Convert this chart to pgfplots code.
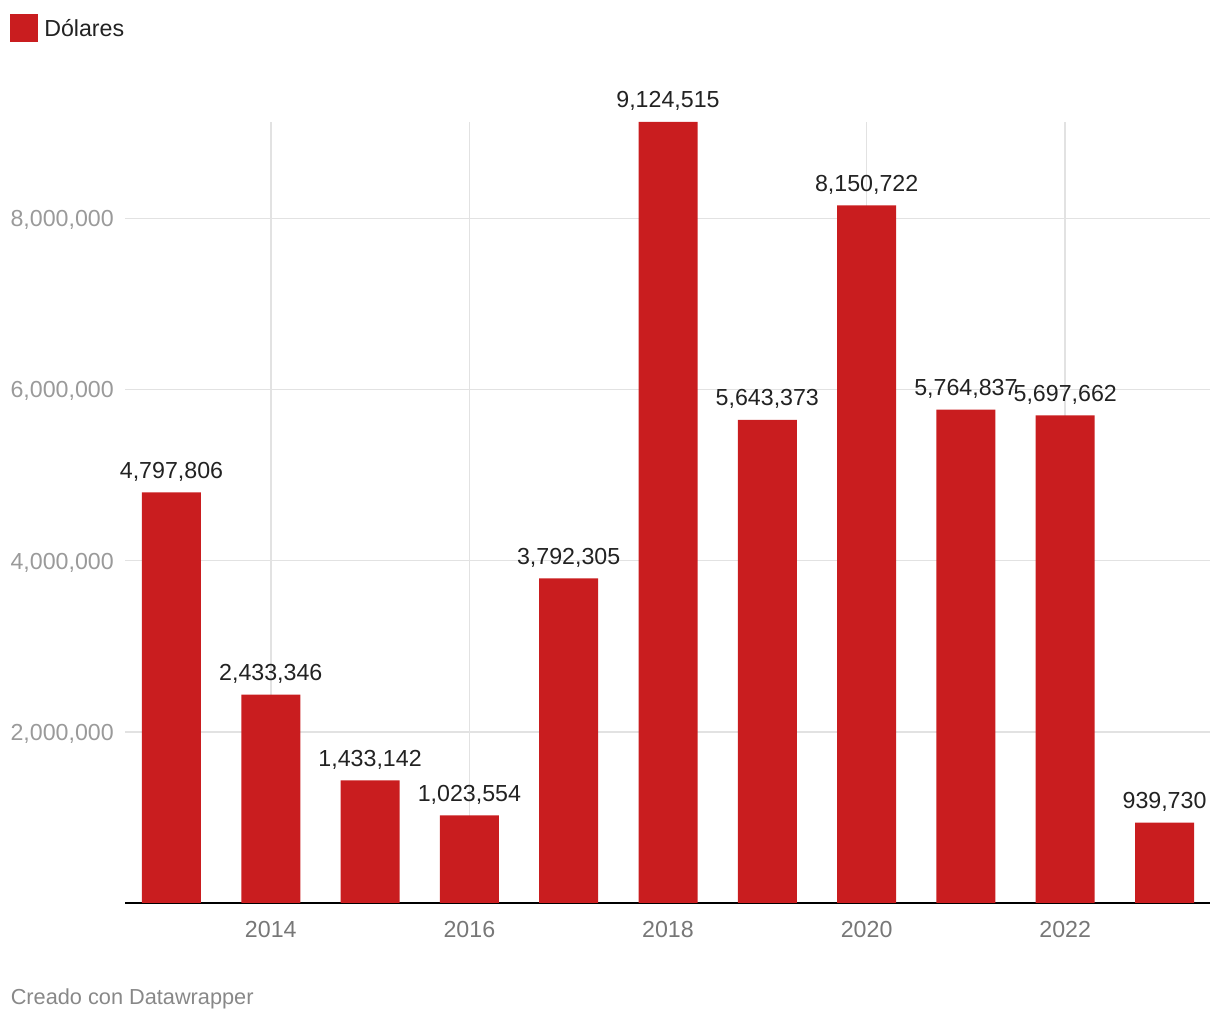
\documentclass[border=0pt]{standalone}
\usepackage{pgfplots}
\usepackage{pgfplotstable}
\pgfplotsset{compat=1.18}
\usepackage{fontspec}
\setmainfont{Liberation Sans}
\definecolor{barred}{HTML}{C91D1F}
\definecolor{gridc}{HTML}{E2E2E2}
\definecolor{ytc}{HTML}{9A9A9A}
\definecolor{xtc}{HTML}{777777}
\definecolor{valc}{HTML}{222222}
\definecolor{footc}{HTML}{888888}
\pgfplotstableread{
year value label
2013 4797806 4,797,806
2014 2433346 2,433,346
2015 1433142 1,433,142
2016 1023554 1,023,554
2017 3792305 3,792,305
2018 9124515 9,124,515
2019 5643373 5,643,373
2020 8150722 8,150,722
2021 5764837 5,764,837
2022 5697662 5,697,662
2023 939730 939,730
}\datatable
\begin{document}
\begin{tikzpicture}[x=0.75pt,y=0.75pt]
\path (0,0) rectangle (1220,1020);
\fill[barred] (10,978) rectangle (38,1006);
\node[anchor=base west, inner sep=0, text=valc, font=\fontsize{17.4}{20}\selectfont] at (44,983) {Dólares};
\node[anchor=base west, inner sep=0, text=footc, font=\fontsize{16.3}{19}\selectfont] at (10.5,15.5) {Creado con Datawrapper};
\begin{axis}[
  at={(93.75pt,87.75pt)}, anchor=south west,
  scale only axis, width=813.75pt, height=585.75pt,
  xmin=2012.532, xmax=2023.458,
  ymin=0, ymax=9124515,
  scaled y ticks=false,
  clip=false,
  axis x line*=bottom, axis y line*=left,
  x axis line style={black, line width=1.5pt},
  y axis line style={draw=none},
  major tick length=0pt,
  xtick={2014,2016,2018,2020,2022},
  xticklabels={2014,2016,2018,2020,2022},
  ytick={2000000,4000000,6000000,8000000},
  yticklabels={{2,000,000},{4,000,000},{6,000,000},{8,000,000}},
  xmajorgrids, ymajorgrids,
  major grid style={gridc, line width=1.1pt},
  xticklabel style={anchor=base, inner sep=0pt, yshift=-26.25pt, text=xtc, font=\fontsize{17.4}{20}\selectfont},
  yticklabel style={anchor=base east, inner sep=0pt, xshift=-8.25pt, yshift=-6.4pt, text=ytc, font=\fontsize{17.4}{20}\selectfont},
  ybar, bar width=44.25pt,
  nodes near coords,
  point meta=explicit symbolic,
  every node near coord/.append style={anchor=base, inner sep=0pt, yshift=10.5pt, text=valc, font=\fontsize{17.4}{20}\selectfont},
]
\addplot[fill=barred, draw=none] table[x=year, y=value, meta=label] {\datatable};
\end{axis}
\end{tikzpicture}
\end{document}
